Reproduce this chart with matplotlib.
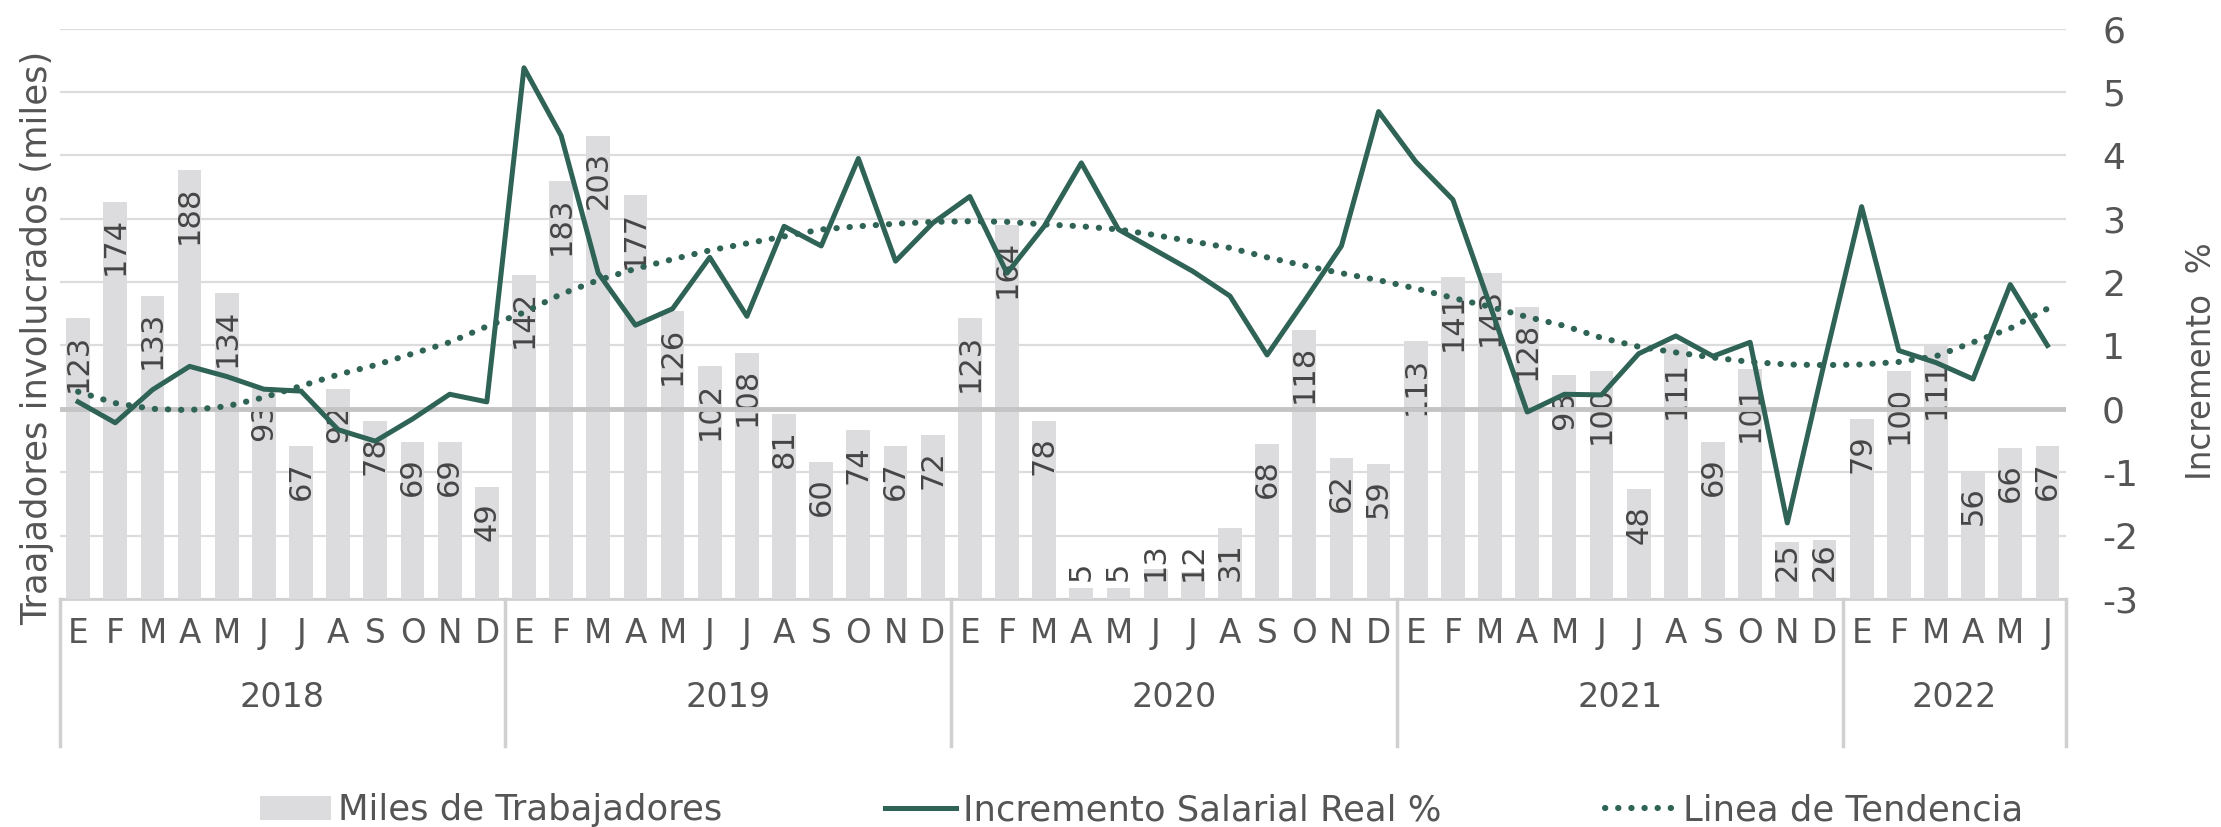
import matplotlib
matplotlib.use("Agg")
import matplotlib.pyplot as plt
import matplotlib.transforms as mtransforms
from matplotlib.patches import Patch
from matplotlib.lines import Line2D

# month / year categories
months = ["E", "F", "M", "A", "M", "J", "J", "A", "S", "O", "N", "D"] * 4 + ["E", "F", "M", "A", "M", "J"]
years = ["2018", "2019", "2020", "2021", "2022"]
months_per_year = [12, 12, 12, 12, 6]

# thousands of workers (bars)
workers = [123, 174, 133, 188, 134, 93, 67, 92, 78, 69, 69, 49,
           142, 183, 203, 177, 126, 102, 108, 81, 60, 74, 67, 72,
           123, 164, 78, 5, 5, 13, 12, 31, 68, 118, 62, 59,
           113, 141, 143, 128, 98, 100, 48, 111, 69, 101, 25, 26,
           79, 100, 111, 56, 66, 67]

# real wage increase % (line)
wage = [0.11, -0.22, 0.30, 0.67, 0.51, 0.31, 0.28, -0.33, -0.51, -0.16, 0.23, 0.11,
        5.38, 4.31, 2.14, 1.32, 1.58, 2.39, 1.46, 2.88, 2.57, 3.95, 2.33, 2.93,
        3.35, 2.14, 2.88, 3.88, 2.83, 2.50, 2.17, 1.78, 0.85, 1.70, 2.57, 4.69,
        3.90, 3.30, 1.63, -0.05, 0.23, 0.22, 0.87, 1.15, 0.83, 1.05, -1.80, 0.74,
        3.19, 0.92, 0.73, 0.47, 1.96, 1.00]

# trend line
trend = [0.27, 0.09, 0.00, -0.02, 0.04, 0.18, 0.36, 0.54, 0.69, 0.87, 1.05, 1.30,
         1.52, 1.81, 2.03, 2.21, 2.36, 2.50, 2.61, 2.72, 2.83, 2.88, 2.92, 2.95,
         2.96, 2.95, 2.91, 2.88, 2.83, 2.74, 2.64, 2.54, 2.39, 2.26, 2.14, 2.03,
         1.90, 1.75, 1.61, 1.45, 1.31, 1.12, 0.98, 0.89, 0.81, 0.74, 0.70, 0.69,
         0.70, 0.74, 0.83, 1.05, 1.27, 1.58]

pct_ticks = [-3, -2, -1, 0, 1, 2, 3, 4, 5, 6]

bar_color = "#DCDCDE"
line_color = "#2E6355"
text_color = "#555555"
grid_color = "#DCDCDC"
dots = (0, (0.05, 2.1))

plt.rcParams["font.family"] = ["DejaVu Sans"]
plt.rcParams["axes.unicode_minus"] = False
plt.rcParams["text.color"] = text_color

fig = plt.figure(figsize=(22.21, 8.27), dpi=100)
axg = fig.add_axes([0.0268, 0.2757, 0.9034, 0.6898])
x = list(range(len(workers)))

# bars on a twin axis (0-250 scale)
axb = axg.twinx()
axb.set_ylim(0, 250)
axb.patch.set_visible(False)
axb.bar(x, workers, width=0.64, color=bar_color, zorder=1)
axb.set_yticks([])
for s in axb.spines.values():
    s.set_visible(False)

# lines on another twin (-3..6 scale)
axl = axg.twinx()
axl.set_ylim(-3, 6)
axl.patch.set_visible(False)
axl.set_yticks([])
for s in axl.spines.values():
    s.set_visible(False)
axl.axhline(0, color="#C4C4C4", linewidth=3.5, zorder=1)
axl.plot(x, trend, color=line_color, linewidth=4.4, linestyle=dots,
         dash_capstyle="round", zorder=2)
axl.plot(x, wage, color=line_color, linewidth=3.6, zorder=3)

# base axis: gridlines and right tick labels (set after twinx)
axg.set_xlim(-0.5, len(workers) - 0.5)
axg.set_ylim(-3, 6)
axg.set_yticks(pct_ticks)
axg.yaxis.tick_right()
axg.tick_params(axis="y", length=0, pad=26, labelsize=26, labelcolor=text_color,
                left=False, labelleft=False, right=True, labelright=True)
axg.grid(axis="y", color=grid_color, linewidth=1.6)
for s in ["top", "left", "right"]:
    axg.spines[s].set_visible(False)
axg.spines["bottom"].set_color("#D0D0D0")
axg.spines["bottom"].set_linewidth(2)
axg.set_xticks(x)
axg.set_xticklabels(months)
axg.tick_params(axis="x", length=0, pad=13, labelsize=23.5, labelcolor=text_color)

# data labels, inside end, pushed up for short bars
labels = []
for i, v in zip(x, workers):
    t = axb.annotate(str(v), (i, v), xytext=(0, -11), textcoords="offset points",
                     rotation=90, ha="center", va="top", fontsize=22,
                     color="#454545", zorder=5)
    labels.append(t)
fig.canvas.draw()
r = fig.canvas.get_renderer()
floor = axb.bbox.y0 + 18
for t in labels:
    bb = t.get_window_extent(r)
    if bb.y0 < floor:
        t.xyann = (0, -11 + (floor - bb.y0) * 72 / fig.dpi)

# year labels and separators
trans = mtransforms.blended_transform_factory(axg.transData, axg.transAxes)
start = 0
for yr, n in zip(years, months_per_year):
    axg.text(start + (n - 1) / 2, -0.172, yr, transform=trans, ha="center", va="center",
             fontsize=24, color=text_color)
    start += n
edges = [-0.5]
for n in months_per_year:
    edges.append(edges[-1] + n)
for e in edges:
    axg.plot([e, e], [0, -0.258], transform=trans, color="#D0D0D0", linewidth=2.5,
             clip_on=False)

# axis titles
fig.text(0.0165, 0.592, "Traajadores involucrados (miles)", rotation=90, ha="center",
         va="center", fontsize=25.5, color=text_color)
fig.text(0.991, 0.563, "Incremento  %", rotation=90, ha="center", va="center",
         fontsize=23.5, color=text_color)

handles = [Patch(facecolor=bar_color, edgecolor="none"),
           Line2D([], [], color=line_color, linewidth=3.6),
           Line2D([], [], color=line_color, linewidth=4.4, linestyle=dots,
                  dash_capstyle="round")]
fig.legend(handles, ["Miles de Trabajadores", "Incremento Salarial Real %", "Linea de Tendencia"],
           loc="center", bbox_to_anchor=(0.514, 0.02), ncol=3, frameon=False,
           fontsize=25.5, handlelength=2.0, handletextpad=0.2, columnspacing=4.6,
           labelcolor=text_color)

fig.savefig("out.png", dpi=100)
